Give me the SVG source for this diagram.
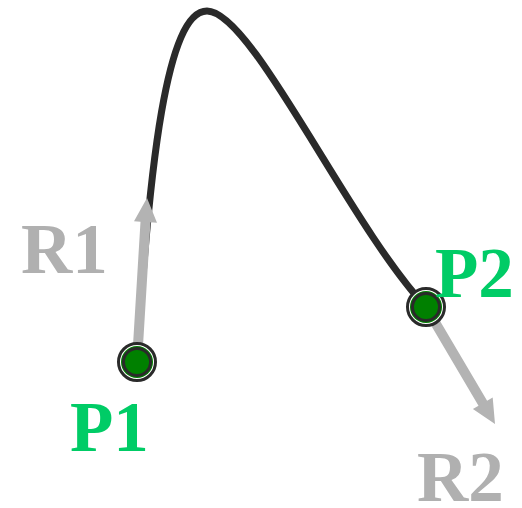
<svg xmlns="http://www.w3.org/2000/svg" width="522" height="508" viewBox="0 0 522 508">
<style>
.lbl{font-family:"Liberation Serif","Times New Roman",serif;font-weight:bold;font-size:71px}
.p{fill:#00cc66}
.r{fill:#b0b0b0}
.vec{fill:#b3b3b3}
.curve{fill:none;stroke:#2a2a2a;stroke-width:7;stroke-linecap:round}
</style>
<defs>
<g id="pt">
<circle r="18.5" fill="#fff" stroke="#2a2a2a" stroke-width="3"/>
<circle r="16" fill="#008000"/>
<circle r="13.5" fill="#008000" stroke="#2a2a2a" stroke-width="3"/>
</g>
</defs>
<g id="connectors">
<path class="curve" d="M137,362 C149.2,162.4 167,11 207,11 C252,11 347.8,223 426,307"/>
<polygon id="R1-vec" class="vec" points="132,361.7 140.5,221.7 134,221.3 147,198 157,222.7 150.5,222.3 142,362.3"/>
<polygon id="R2-vec" class="vec" points="421.7,309.5 478.5,405.8 472.9,409.1 495,424 492.7,397.5 487.1,400.8 430.3,304.5"/>
</g>
<g id="P1"><use href="#pt" x="137" y="362"/><text class="lbl p" x="70" y="451">P1</text></g>
<g id="P2"><use href="#pt" x="426" y="307"/><text class="lbl p" x="435" y="297">P2</text></g>
<g id="R1"><text class="lbl r" x="21" y="273">R1</text></g>
<g id="R2"><text class="lbl r" x="417" y="501">R2</text></g>
</svg>
